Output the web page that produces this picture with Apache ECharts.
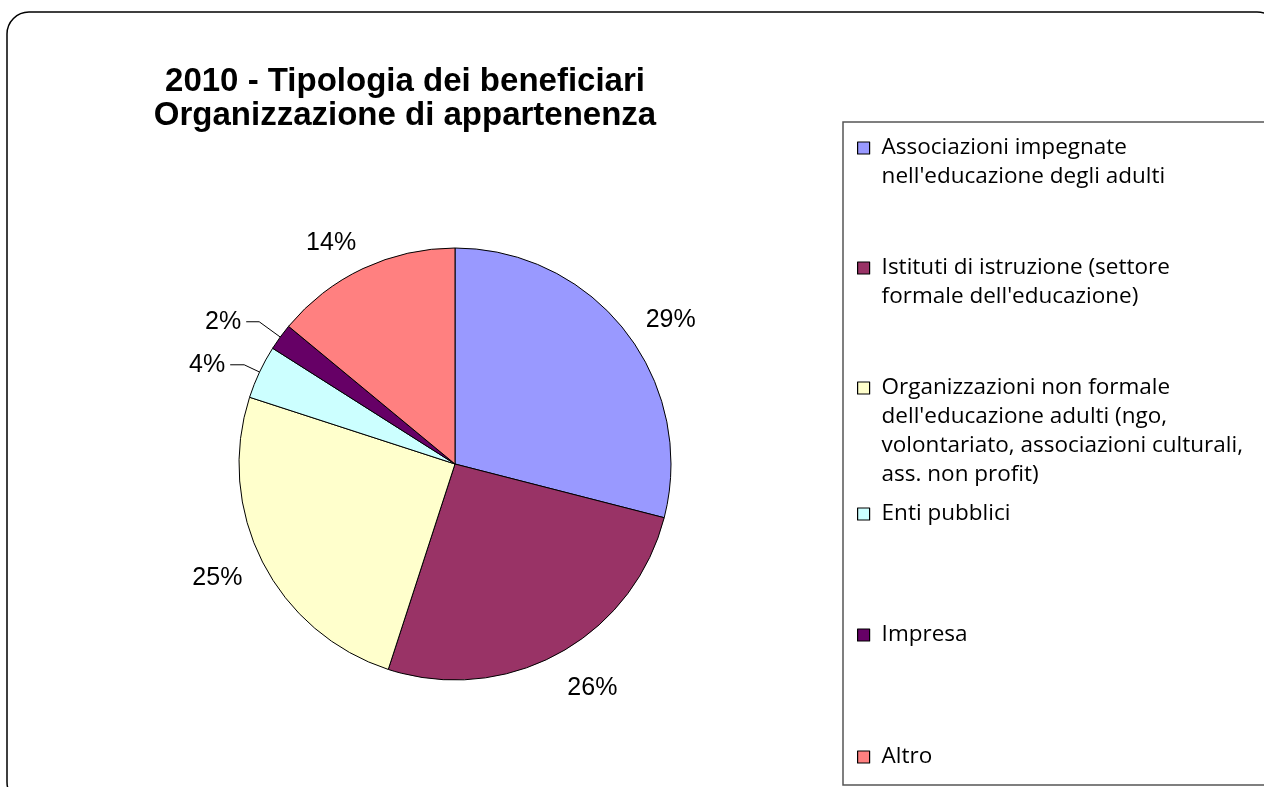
<!DOCTYPE html>
<html>
<head>
<meta charset="utf-8">
<title>2010 - Tipologia dei beneficiari</title>
<script src="https://cdn.jsdelivr.net/npm/echarts@6/dist/echarts.min.js"></script>
<style>
  html, body { margin: 0; padding: 0; background: #fff; }
  #chart { width: 1264px; height: 787px; }
</style>
</head>
<body>
<div id="chart"></div>
<script>
// categories (legend order = slice order, clockwise from 12 o'clock)
var categories = [
  "Associazioni impegnate nell'educazione degli adulti",
  "Istituti di istruzione (settore formale dell'educazione)",
  "Organizzazioni non formale dell'educazione adulti (ngo, volontariato, associazioni culturali, ass. non profit)",
  "Enti pubblici",
  "Impresa",
  "Altro"
];
// same names, wrapped as in the legend
var legendLines = [
  ["Associazioni impegnate", "nell'educazione degli adulti"],
  ["Istituti di istruzione (settore", "formale dell'educazione)"],
  ["Organizzazioni non formale", "dell'educazione adulti (ngo,", "volontariato, associazioni culturali,", "ass. non profit)"],
  ["Enti pubblici"],
  ["Impresa"],
  ["Altro"]
];
var shares = [29, 26, 25, 4, 2, 14];
var colors = ['#9999FF', '#993366', '#FFFFCC', '#CCFFFF', '#660066', '#FF8080'];

// layout bits
var legendFirstLineY = [148, 268, 388, 514, 635, 757];
var legendLineH = 29;
var labelLen = [19, 40, 35, 17, 26, 28];
var labelLen2 = [0, -16, -16, 14, 13, -10];
var showLine = [false, false, false, true, true, false];

var chart = echarts.init(document.getElementById('chart'));

var legendFont = { fontFamily: 'Open Sans', fontSize: 22.5, color: '#000', lineHeight: legendLineH };

var legends = categories.map(function (name, i) {
  var n = legendLines[i].length;
  return {
    data: [name],
    left: 857,
    top: legendFirstLineY[i] - (2 * n - 1) * legendLineH / 2,
    padding: 0,
    icon: 'rect',
    itemWidth: 12,
    itemHeight: 12,
    itemGap: 0,
    selectedMode: false,
    itemStyle: { borderColor: '#000', borderWidth: 1.2 },
    formatter: function () {
      // blank lines on top keep the marker level with the first line
      var out = [];
      for (var k = 1; k < n; k++) out.push('{t| }');
      legendLines[i].forEach(function (l) { out.push('{t|' + l + '}'); });
      return out.join('\n');
    },
    textStyle: {
      fontFamily: 'Open Sans',
      fontSize: 22.5,
      color: '#000',
      lineHeight: legendLineH,
      rich: {
        t: Object.assign({ padding: [0, 0, 0, 7] }, legendFont)
      }
    }
  };
});

var option = {
  animation: false,
  title: {
    text: '2010 - Tipologia dei beneficiari\nOrganizzazione di appartenenza',
    left: 400,
    top: 60,
    textAlign: 'center',
    textStyle: {
      fontFamily: 'Liberation Sans',
      fontWeight: 'bold',
      fontSize: 33,
      lineHeight: 34,
      color: '#000'
    }
  },
  legend: legends,
  graphic: [
    {
      type: 'rect',
      shape: { x: 7, y: 12, width: 1272, height: 792, r: 22 },
      style: { fill: null, stroke: '#000', lineWidth: 1.5 },
      silent: true
    },
    {
      type: 'rect',
      shape: { x: 843, y: 122, width: 440, height: 663 },
      style: { fill: null, stroke: '#555555', lineWidth: 1.5 },
      silent: true
    }
  ],
  series: [{
    type: 'pie',
    center: [455, 464],
    radius: 216,
    startAngle: 90,
    clockwise: true,
    avoidLabelOverlap: false,
    itemStyle: { borderColor: '#000', borderWidth: 1 },
    label: {
      show: true,
      position: 'outside',
      fontFamily: 'Liberation Sans',
      fontSize: 25,
      color: '#000',
      distanceToLabelLine: 5,
      formatter: function (p) { return Math.round(p.percent) + '%'; }
    },
    labelLine: { lineStyle: { color: '#000', width: 1 } },
    emphasis: { disabled: true },
    data: categories.map(function (name, i) {
      return {
        name: name,
        value: shares[i],
        itemStyle: { color: colors[i] },
        labelLine: { show: showLine[i], length: labelLen[i], length2: labelLen2[i] }
      };
    })
  }]
};

chart.setOption(option);
</script>
</body>
</html>
